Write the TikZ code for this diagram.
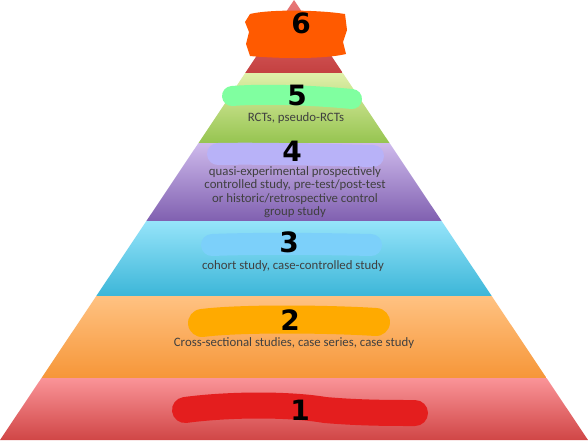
\documentclass[tikz,border=0pt]{standalone}
\usepackage{fontspec}
\setmainfont{Carlito}
\newfontfamily\digitfont{DejaVu Sans}
\definecolor{t6a}{RGB}{232,120,120}
\definecolor{t6b}{RGB}{196,64,64}
\definecolor{t5a}{RGB}{224,240,170}
\definecolor{t5b}{RGB}{150,196,80}
\definecolor{t4a}{RGB}{206,186,236}
\definecolor{t4b}{RGB}{128,96,176}
\definecolor{t3a}{RGB}{150,228,250}
\definecolor{t3b}{RGB}{60,182,216}
\definecolor{t2a}{RGB}{255,194,130}
\definecolor{t2b}{RGB}{246,150,56}
\definecolor{t1a}{RGB}{250,148,152}
\definecolor{t1b}{RGB}{208,70,70}
\definecolor{b6}{RGB}{255,90,0}
\definecolor{b5}{RGB}{128,255,160}
\definecolor{b4}{RGB}{184,178,248}
\definecolor{b3}{RGB}{124,208,250}
\definecolor{b2}{RGB}{255,170,0}
\definecolor{b1}{RGB}{228,30,30}
\begin{document}
\begin{tikzpicture}[x=1pt,y=-1pt,
  tiertext/.style={text=black!75, font=\fontsize{12.8}{13.4}\selectfont, align=center, inner sep=0pt},
  digit/.style={font=\digitfont\bfseries\fontsize{28}{28}\selectfont, text=black, inner sep=0pt},
  blob/.style={line cap=round, line join=round}]
\useasboundingbox (0,0) rectangle (588,440);
\fill[white] (0,0) rectangle (588,440);
% tiers
\shade[top color=t6a, bottom color=t6b] (294,0) -- (342.8,73) -- (245.2,73) -- cycle;
\shade[top color=t5a, bottom color=t5b] (245.2,73) -- (342.8,73) -- (389.5,143) -- (198.5,143) -- cycle;
\shade[top color=t4a, bottom color=t4b] (198.5,143) -- (389.5,143) -- (441.6,221) -- (146.4,221) -- cycle;
\shade[top color=t3a, bottom color=t3b] (146.4,221) -- (441.6,221) -- (491.7,296) -- (96.3,296) -- cycle;
\shade[top color=t2a, bottom color=t2b] (96.3,296) -- (491.7,296) -- (546.5,378) -- (41.5,378) -- cycle;
\shade[top color=t1a, bottom color=t1b] (41.5,378) -- (546.5,378) -- (588,440) -- (0,440) -- cycle;
% scribbles
\fill[blob, b6] (250,14) .. controls (270,9) and (320,10) .. (345,14) -- (347,30) -- (343,42) -- (346,54) .. controls (320,60) and (270,58) .. (250,56) -- (246,44) -- (249,32) -- (245,22) -- cycle;
\draw[blob, line width=20pt, b5] (232,96) .. controls (270,93) and (320,96) .. (352,99);
\draw[blob, line width=22pt, b4] (218,154) .. controls (260,153) and (330,155) .. (373,156);
\draw[blob, line width=22pt, b3] (212,245) .. controls (260,243) and (330,244) .. (371,245);
\draw[blob, line width=28pt, b2] (202,323) .. controls (240,318) and (330,319) .. (376,322);
\draw[blob, line width=26pt, b1] (185,410) .. controls (230,404) and (290,404) .. (325,410) .. controls (360,413) and (390,413) .. (415,413);
% digits
\node[digit] (d6) at (301,23) {6};
\node[digit] (d5) at (297,95) {5};
\node[digit] (d4) at (292,151) {4};
\node[digit] (d3) at (289,242) {3};
\node[digit] (d2) at (290,320) {2};
\node[digit] (d1) at (300,410) {1};
% texts
\node[tiertext] (t5) at (296,118) {RCTs, pseudo-RCTs};
\node[tiertext] (t4) at (295,192) {quasi-experimental prospectively\\controlled study, pre-test/post-test\\or historic/retrospective control\\group study};
\node[tiertext] (t3) at (293,266) {cohort study, case-controlled study};
\node[tiertext] (t2) at (294,343) {Cross-sectional studies, case series, case study};
\end{tikzpicture}
\end{document}
